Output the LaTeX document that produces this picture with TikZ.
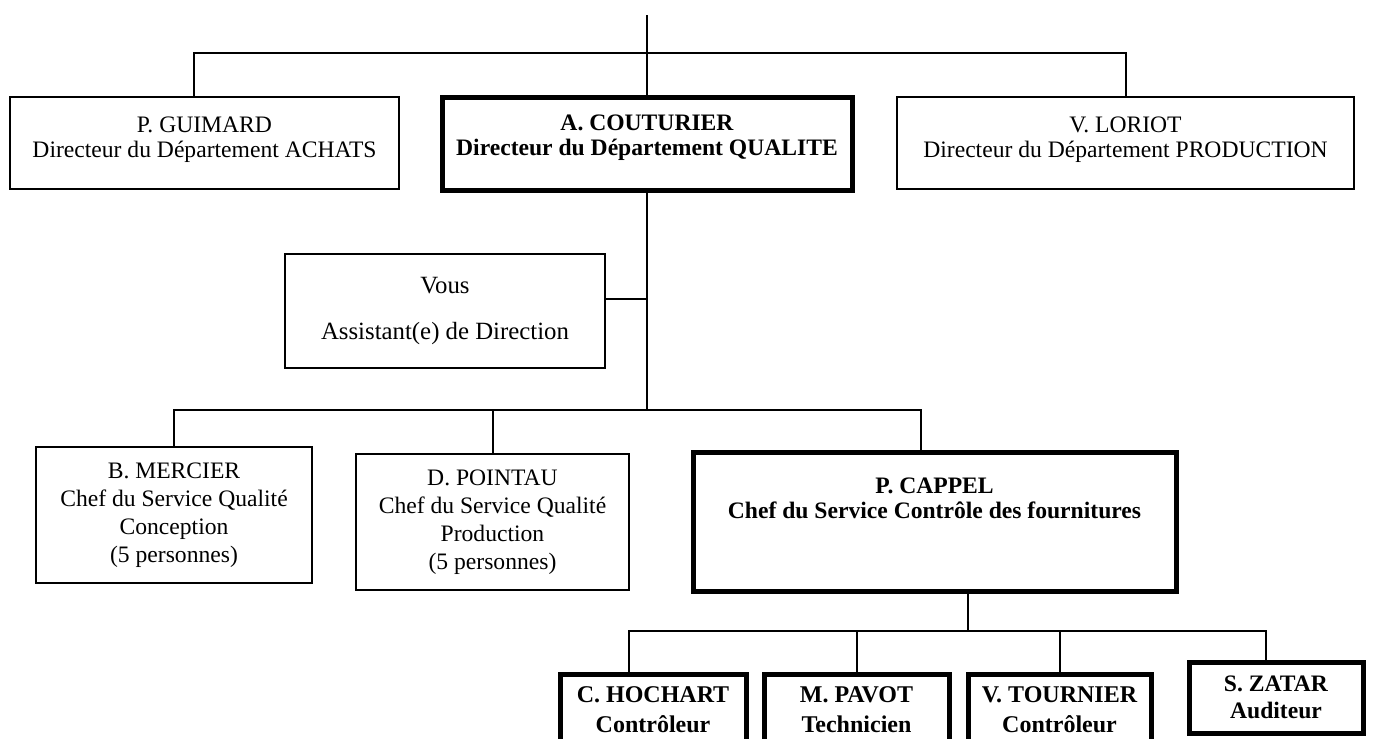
\documentclass[tikz,border=0pt]{standalone}
\usepackage{fontspec}
\setmainfont{Liberation Serif}
\usetikzlibrary{positioning}

\begin{document}
\begin{tikzpicture}[x=0.5pt, y=-0.5pt,
  box/.style={draw, line width=1pt, inner sep=0pt, align=center, font=\fontsize{11.8}{14}\selectfont},
  boss/.style={box, line width=2.5pt, font=\bfseries\fontsize{12}{15}\selectfont},
  toptext/.style={anchor=north, align=center, inner sep=0pt, font=\fontsize{11.8}{12.5}\selectfont, yshift=#1},
  boldtext/.style={toptext=#1, font=\bfseries\fontsize{11.8}{12.5}\selectfont},
  wire/.style={line width=1pt}]
\useasboundingbox (0,0) rectangle (1377,739);
\clip (0,0) rectangle (1377,739);
% first level
\node[box, minimum width=194.5pt, minimum height=46pt,
  label={[toptext=-10pt]90:{P. GUIMARD\\Directeur du Département ACHATS}}] (guimard) at (204.5,143) {};
\node[boss, minimum width=205pt, minimum height=46.5pt,
  label={[boldtext=-10pt]90:{A. COUTURIER\\Directeur du Département QUALITE}}] (couturier) at (647,143.5) {};
\node[box, minimum width=228.5pt, minimum height=46pt,
  label={[toptext=-10pt]90:{V. LORIOT\\Directeur du Département PRODUCTION}}] (loriot) at (1125.5,143) {};
\coordinate (root) at (647,15);
\coordinate (g1) at (194,53);
\draw[wire] (root) -- (couturier.north);
\draw[wire] (guimard.north -| g1) -- (g1) -- (g1 -| loriot.north) -- (loriot.north);
% assistant
\node[box, minimum width=160pt, minimum height=57pt, font=\fontsize{12.4}{14}\selectfont] (vous) at (445,311)
  {Vous\\[9pt]Assistant(e) de Direction};
\coordinate (bar3) at (647,410);
\coordinate (c1) at (921,410);
\draw[wire] (couturier.south) -- (bar3);
\draw[wire] ([yshift=6pt]vous.east) -- ([yshift=6pt]vous.east -| couturier.south);
% services
\node[box, minimum width=138pt, minimum height=68pt] (mercier) at (174,515)
  {B. MERCIER\\Chef du Service Qualité\\Conception\\(5 personnes)};
\node[box, minimum width=136.5pt, minimum height=68pt] (pointau) at (492.5,522)
  {D. POINTAU\\Chef du Service Qualité\\Production\\(5 personnes)};
\node[boss, minimum width=241.5pt, minimum height=69.5pt,
  label={[boldtext=-14pt]90:{P. CAPPEL\\Chef du Service Contrôle des fournitures}}] (cappel) at (934.5,521.5) {};
\draw[wire] (mercier.north) |- (c1) -- (c1 |- cappel.north);
\draw[wire] (pointau.north) -- (pointau.north |- bar3);
% controle des fournitures
\node[boss, minimum width=93pt, minimum height=36pt] (hochart) at (653,710) {C. HOCHART\\Contrôleur};
\node[boss, minimum width=92.5pt, minimum height=36pt] (pavot) at (856.5,710) {M. PAVOT\\Technicien};
\node[boss, minimum width=91.5pt, minimum height=36pt] (tournier) at (1059.5,710) {V. TOURNIER\\Contrôleur};
\node[boss, minimum width=87pt, minimum height=35.5pt, font=\bfseries\fontsize{11.8}{13.5}\selectfont] (zatar) at (1276,697.5) {S. ZATAR\\Auditeur};
\coordinate (c2) at (968,631);
\coordinate (h1) at (629,631);
\coordinate (z1) at (1266,631);
\draw[wire] (c2 |- cappel.south) -- (c2);
\draw[wire] (h1 |- hochart.north) -- (h1) -- (z1) -- (z1 |- zatar.north);
\draw[wire] (pavot.north) -- (pavot.north |- h1);
\draw[wire] (tournier.north) -- (tournier.north |- h1);
\end{tikzpicture}
\end{document}
